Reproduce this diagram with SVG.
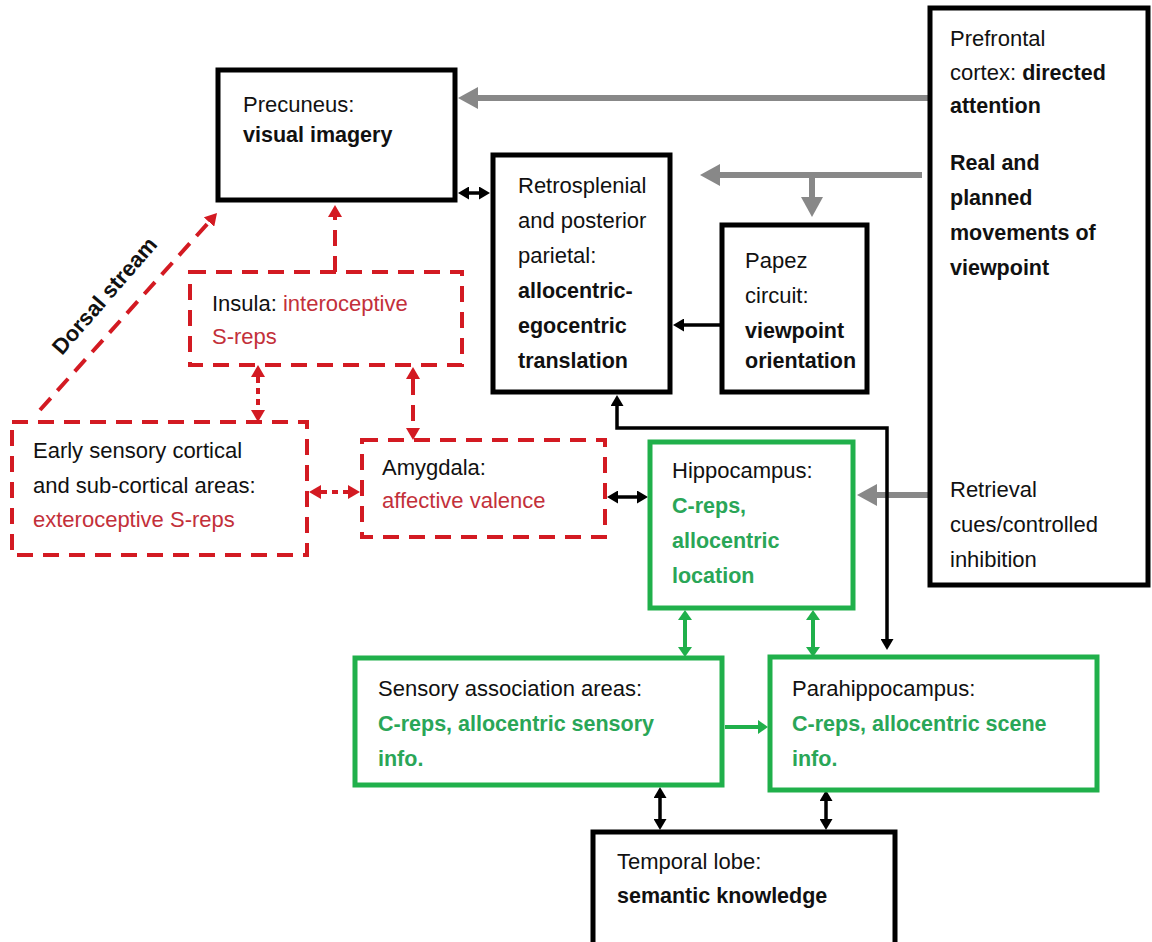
<svg xmlns="http://www.w3.org/2000/svg" width="1152" height="942" viewBox="0 0 1152 942">
<style>
text{font-family:"Liberation Sans",Arial,sans-serif;font-size:22px;fill:#111}
.b{font-weight:bold;font-size:21.5px}
.r{fill:#c3303a}
.g{fill:#2aa657;font-weight:bold;font-size:21.5px}
.box{fill:#fff;stroke:#000;stroke-width:5}
.gbox{fill:#fff;stroke:#20b04b;stroke-width:5}
.rbox{fill:#fff;stroke:#d31a22;stroke-width:4;stroke-dasharray:16 10}
.cb{fill:none;stroke:#000;stroke-width:3.5}
.cg{fill:none;stroke:#888;stroke-width:6}
.cgr{fill:none;stroke:#20b04b;stroke-width:4}
.cr{fill:none;stroke:#d31a22;stroke-width:4;stroke-dasharray:16 10}
.crd{fill:none;stroke:#d31a22;stroke-width:4;stroke-dasharray:6 5}
</style>
<defs>
<marker id="mb" markerUnits="userSpaceOnUse" markerWidth="11" markerHeight="13" refX="0" refY="6.5" orient="auto-start-reverse"><path d="M0,0 L11,6.5 L0,13 z" fill="#000"/></marker>
<marker id="mg" markerUnits="userSpaceOnUse" markerWidth="20" markerHeight="22" refX="0" refY="11" orient="auto-start-reverse"><path d="M0,0 L20,11 L0,22 z" fill="#888"/></marker>
<marker id="mgr" markerUnits="userSpaceOnUse" markerWidth="10" markerHeight="14" refX="0" refY="7" orient="auto-start-reverse"><path d="M0,0 L10,7 L0,14 z" fill="#20b04b"/></marker>
<marker id="mr" markerUnits="userSpaceOnUse" markerWidth="12" markerHeight="14" refX="0" refY="7" orient="auto-start-reverse"><path d="M0,0 L12,7 L0,14 z" fill="#d31a22"/></marker>
</defs>
<rect width="1152" height="942" fill="#fff"/>

<g id="connectors">
<path class="cg" d="M930 98 L478 98" marker-end="url(#mg)"/>
<path class="cg" d="M922 175 L720 175" marker-end="url(#mg)"/>
<path class="cg" d="M812 175 L812 197" marker-end="url(#mg)"/>
<path class="cg" d="M930 495 L877 495" marker-end="url(#mg)"/>
<path class="cb" d="M469 193 L479 193" marker-start="url(#mb)" marker-end="url(#mb)"/>
<path class="cb" d="M722 325 L684 325" marker-end="url(#mb)"/>
<path class="cb" d="M617 406 L617 428 L887 428 L887 639" marker-start="url(#mb)" marker-end="url(#mb)"/>
<path class="cb" d="M618 497 L637 497" marker-start="url(#mb)" marker-end="url(#mb)"/>
<path class="cb" d="M660 798 L660 819" marker-start="url(#mb)" marker-end="url(#mb)"/>
<path class="cb" d="M826 801 L826 819" marker-start="url(#mb)" marker-end="url(#mb)"/>
<path class="cgr" d="M685 620 L685 647" marker-start="url(#mgr)" marker-end="url(#mgr)"/>
<path class="cgr" d="M813 620 L813 647" marker-start="url(#mgr)" marker-end="url(#mgr)"/>
<path class="cgr" d="M725 727 L758 727" marker-end="url(#mgr)"/>
<path class="cr" d="M335 272 L335 217" marker-end="url(#mr)"/>
<path class="cr" d="M40 410 L209 222" marker-end="url(#mr)"/>
<path class="crd" d="M258 377 L258 410" marker-start="url(#mr)" marker-end="url(#mr)"/>
<path class="cr" d="M413 379 L413 428" marker-start="url(#mr)" marker-end="url(#mr)"/>
<path class="crd" d="M321 492 L348 492" marker-start="url(#mr)" marker-end="url(#mr)"/>
<text transform="translate(62,356) rotate(-49)" font-size="21" font-weight="bold">Dorsal stream</text>
</g>

<g id="precuneus"><rect class="box" x="218" y="70" width="237" height="130"/>
<text x="243" y="112">Precuneus:</text><text x="243" y="142" class="b">visual imagery</text></g>

<g id="retrosplenial"><rect class="box" x="493" y="155" width="177" height="237"/>
<text x="518" y="193">Retrosplenial</text><text x="518" y="228">and posterior</text><text x="518" y="263">parietal:</text>
<text x="518" y="298" class="b">allocentric-</text><text x="518" y="333" class="b">egocentric</text><text x="518" y="368" class="b">translation</text></g>

<g id="papez"><rect class="box" x="722" y="225" width="145" height="167"/>
<text x="745" y="268">Papez</text><text x="745" y="303">circuit:</text><text x="745" y="338" class="b">viewpoint</text><text x="745" y="368" class="b">orientation</text></g>

<g id="prefrontal"><rect class="box" x="930" y="8" width="218" height="577"/>
<text x="950" y="46">Prefrontal</text><text x="950" y="80">cortex: <tspan class="b">directed</tspan></text><text x="950" y="113" class="b">attention</text>
<text x="950" y="170" class="b">Real and</text><text x="950" y="205" class="b">planned</text><text x="950" y="240" class="b">movements of</text><text x="950" y="275" class="b">viewpoint</text>
<text x="950" y="497">Retrieval</text><text x="950" y="532">cues/controlled</text><text x="950" y="567">inhibition</text></g>

<g id="insula"><rect class="rbox" x="190" y="272" width="272" height="93"/>
<text x="212" y="311">Insula: <tspan class="r">interoceptive</tspan></text><text x="212" y="344" class="r">S-reps</text></g>

<g id="early"><rect class="rbox" x="12" y="422" width="295" height="133"/>
<text x="33" y="458">Early sensory cortical</text><text x="33" y="493">and sub-cortical areas:</text><text x="33" y="527" class="r">exteroceptive S-reps</text></g>

<g id="amygdala"><rect class="rbox" x="362" y="440" width="243" height="97"/>
<text x="382" y="475">Amygdala:</text><text x="382" y="508" class="r">affective valence</text></g>

<g id="hippocampus"><rect class="gbox" x="650" y="442" width="203" height="166"/>
<text x="672" y="478">Hippocampus:</text><text x="672" y="513" class="g">C-reps,</text><text x="672" y="548" class="g">allocentric</text><text x="672" y="583" class="g">location</text></g>

<g id="sensory"><rect class="gbox" x="355" y="658" width="367" height="127"/>
<text x="378" y="696">Sensory association areas:</text><text x="378" y="731" class="g">C-reps, allocentric sensory</text><text x="378" y="766" class="g">info.</text></g>

<g id="parahippocampus"><rect class="gbox" x="770" y="657" width="327" height="133"/>
<text x="792" y="696">Parahippocampus:</text><text x="792" y="731" class="g">C-reps, allocentric scene</text><text x="792" y="766" class="g">info.</text></g>

<g id="temporal"><rect class="box" x="593" y="832" width="302" height="115"/>
<text x="617" y="869">Temporal lobe:</text><text x="617" y="903" class="b">semantic knowledge</text></g>
</svg>
